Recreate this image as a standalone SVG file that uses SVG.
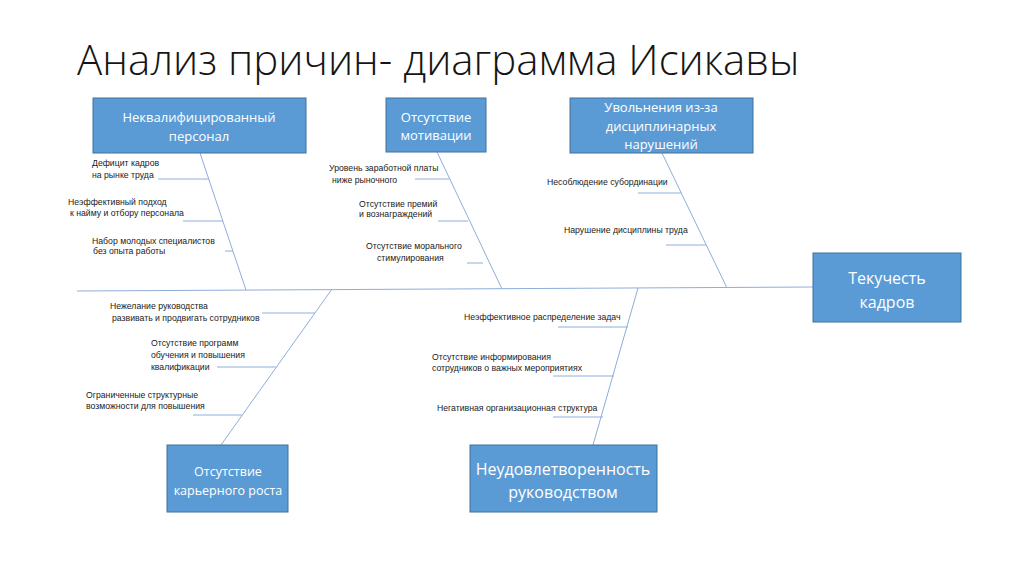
<svg xmlns="http://www.w3.org/2000/svg" width="1024" height="574" viewBox="0 0 1024 574">
<style>
.box{fill:#5B9BD5;stroke:#41719C;stroke-width:1}
.bt{fill:#fff;font-family:"Open Sans","Liberation Sans",sans-serif;text-anchor:middle}
.s{font-family:"Liberation Sans",Arial,sans-serif;font-size:8.7px;fill:#1a1a1a}
.ln{stroke:#8EAEDB;stroke-width:1;fill:none}
.title{font-family:"Open Sans","Liberation Sans",sans-serif;font-size:42px;fill:#151515;font-weight:300}
</style>
<rect width="1024" height="574" fill="#fff"/>
<text class="title" x="77" y="75">Анализ причин- диаграмма Исикавы</text>
<g id="connectors">
<line class="ln" x1="77" y1="291" x2="813" y2="287"/>
<line class="ln" x1="200" y1="153" x2="246" y2="290"/>
<line class="ln" x1="158" y1="179" x2="209" y2="179"/>
<line class="ln" x1="183" y1="221" x2="223" y2="221"/>
<line class="ln" x1="225" y1="251" x2="233" y2="251"/>
<line class="ln" x1="437" y1="152" x2="502" y2="289"/>
<line class="ln" x1="415" y1="179" x2="449" y2="179"/>
<line class="ln" x1="438" y1="221" x2="468" y2="221"/>
<line class="ln" x1="467" y1="263" x2="483" y2="263"/>
<line class="ln" x1="662" y1="153" x2="727" y2="288"/>
<line class="ln" x1="638" y1="193" x2="681" y2="193"/>
<line class="ln" x1="666" y1="245" x2="706" y2="245"/>
<line class="ln" x1="332" y1="289" x2="221" y2="445"/>
<line class="ln" x1="262" y1="313" x2="315" y2="313"/>
<line class="ln" x1="217" y1="367" x2="276" y2="367"/>
<line class="ln" x1="193" y1="415" x2="242" y2="415"/>
<line class="ln" x1="638" y1="288" x2="593" y2="445"/>
<line class="ln" x1="558" y1="327" x2="628" y2="327"/>
<line class="ln" x1="553" y1="376" x2="614" y2="376"/>
<line class="ln" x1="553" y1="417" x2="603" y2="417"/>
</g>
<g id="node-neq">
<rect class="box" x="93" y="98" width="213" height="55"/>
<text class="bt" font-size="13" x="199" y="122">Неквалифицированный</text>
<text class="bt" font-size="13" x="199" y="141">персонал</text>
</g>
<g id="node-motiv">
<rect class="box" x="386" y="98" width="100" height="54"/>
<text class="bt" font-size="13" x="436" y="122">Отсутствие</text>
<text class="bt" font-size="13" x="436" y="140">мотивации</text>
</g>
<g id="node-uvol">
<rect class="box" x="570" y="98" width="183" height="55"/>
<text class="bt" font-size="13" x="661" y="112">Увольнения из-за</text>
<text class="bt" font-size="13" x="661" y="131">дисциплинарных</text>
<text class="bt" font-size="13" x="661" y="149">нарушений</text>
</g>
<g id="node-tek">
<rect class="box" x="813" y="253" width="148" height="69"/>
<text class="bt" font-size="16" x="887" y="284">Текучесть</text>
<text class="bt" font-size="16" x="887" y="308">кадров</text>
</g>
<g id="node-kar">
<rect class="box" x="167" y="445" width="121" height="67"/>
<text class="bt" font-size="12.5" x="228" y="476">Отсутствие</text>
<text class="bt" font-size="12.5" x="228" y="495">карьерного роста</text>
</g>
<g id="node-neud">
<rect class="box" x="470" y="445" width="187" height="67"/>
<text class="bt" font-size="16" x="563" y="475">Неудовлетворенность</text>
<text class="bt" font-size="16" x="563" y="498">руководством</text>
</g>
<g id="labels">
<text class="s" x="92" y="166">Дефицит кадров</text>
<text class="s" x="92" y="178">на рынке труда</text>
<text class="s" x="68" y="205">Неэффективный подход</text>
<text class="s" x="70" y="216"> к найму и отбору персонала</text>
<text class="s" x="92" y="244">Набор молодых специалистов</text>
<text class="s" x="93" y="254">без опыта работы</text>
<text class="s" x="329" y="171">Уровень заработной платы</text>
<text class="s" x="332" y="183">ниже рыночного</text>
<text class="s" x="359" y="207">Отсутствие премий</text>
<text class="s" x="359" y="217">и вознаграждений</text>
<text class="s" x="366" y="249">Отсутствие морального</text>
<text class="s" x="377" y="261">стимулирования</text>
<text class="s" x="547" y="185">Несоблюдение субординации</text>
<text class="s" x="564" y="233">Нарушение дисциплины труда</text>
<text class="s" x="110" y="309">Нежелание руководства</text>
<text class="s" x="112" y="321">развивать и продвигать сотрудников</text>
<text class="s" x="151" y="346">Отсутствие программ</text>
<text class="s" x="151" y="358">обучения и повышения</text>
<text class="s" x="151" y="370">квалификации</text>
<text class="s" x="86" y="398">Ограниченные структурные</text>
<text class="s" x="86" y="409">возможности для повышения</text>
<text class="s" x="464" y="320">Неэффективное распределение задач</text>
<text class="s" x="432" y="360">Отсутствие информирования</text>
<text class="s" x="432" y="371">сотрудников о важных мероприятиях</text>
<text class="s" x="437" y="411">Негативная организационная структура</text>
</g>
</svg>
